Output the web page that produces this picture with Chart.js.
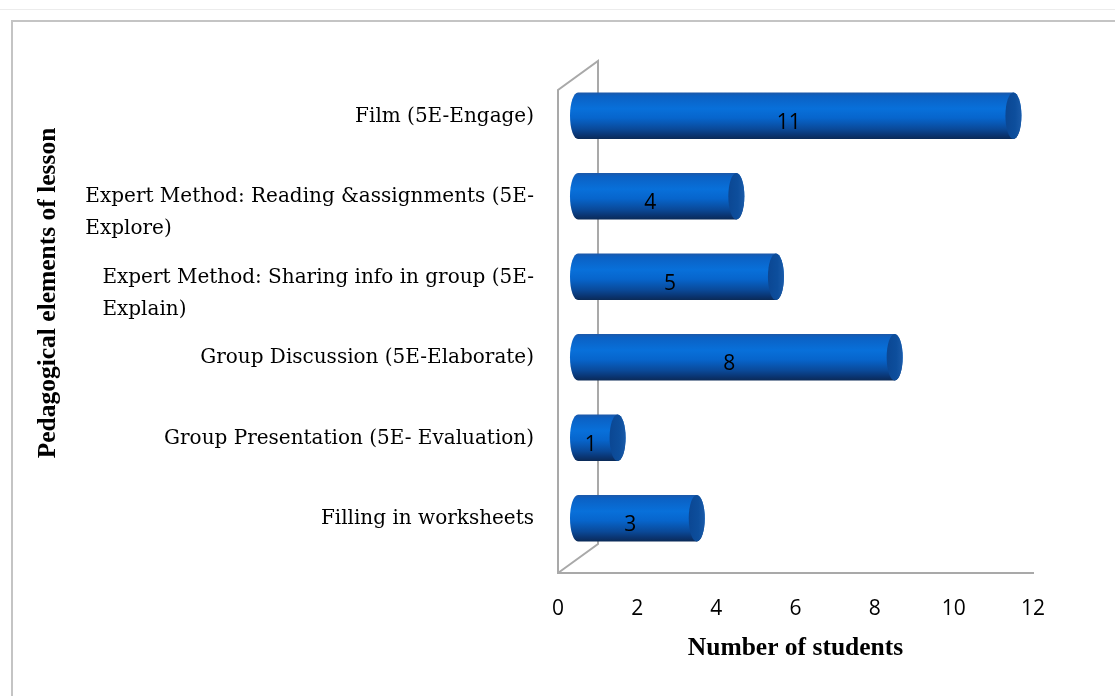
<!DOCTYPE html>
<html>
<head>
<meta charset="utf-8">
<script src="https://cdn.jsdelivr.net/npm/chart.js@4/dist/chart.umd.min.js"></script>
<style>
  body { margin: 0; background: #fff; overflow: hidden; }
  #topline { position: absolute; left: 0; top: 9px; width: 1115px; height: 1px; background: #ececec; }
  #frame { position: absolute; left: 11px; top: 20px; width: 1200px; height: 800px;
           border-left: 2px solid #c4c4c4; border-top: 2px solid #c4c4c4; }
  #chart { position: absolute; left: 0; top: 0; }
</style>
</head>
<body>
<div id="topline"></div>
<div id="frame"></div>
<canvas id="chart" width="1115" height="696"></canvas>
<script>
// categories top to bottom, as shown on the y axis
const categories = [
    ['Film (5E-Engage)'],
    ['Expert Method: Reading &assignments (5E-', 'Explore)'],
    ['Expert Method: Sharing info in group (5E-', 'Explain)'],
    ['Group Discussion (5E-Elaborate)'],
    ['Group Presentation (5E- Evaluation)'],
    ['Filling in worksheets']
];
const students = [11, 4, 5, 8, 1, 3];
const xTicks = [0, 2, 4, 6, 8, 10, 12];

const depthX = 40;   // 3d depth of the plot box
const depthY = -29;

const labelFont = '20px "DejaVu Serif"';
const numFont = '21px "Open Sans"';
const titleFont = 'bold 25.5px "Liberation Serif"';

// draws the 3d walls, cylinders, value labels and category labels
const cylinderPlugin = {
    id: 'cylinders',
    beforeDatasetsDraw(chart) {
        const ctx = chart.ctx;
        const a = chart.chartArea;
        ctx.save();
        ctx.strokeStyle = '#a9a9a9';
        ctx.lineWidth = 2;
        ctx.beginPath();
        ctx.moveTo(a.left, a.bottom);
        ctx.lineTo(a.left, a.top);
        ctx.lineTo(a.left + depthX, a.top + depthY);
        ctx.lineTo(a.left + depthX, a.bottom + depthY);
        ctx.lineTo(a.left, a.bottom);
        ctx.stroke();
        ctx.restore();
    },
    afterDatasetsDraw(chart) {
        const ctx = chart.ctx;
        const meta = chart.getDatasetMeta(0);
        const yScale = chart.scales.y;
        ctx.save();
        meta.data.forEach((bar, i) => {
            const x0 = bar.base + depthX / 2;
            const x1 = bar.x + depthX / 2;
            const cy = bar.y + depthY / 2;
            const ry = bar.height / 2;
            const rx = 8;
            const top = cy - ry, bottom = cy + ry;

            const grad = ctx.createLinearGradient(0, top, 0, bottom);
            grad.addColorStop(0, '#1d58a8');
            grad.addColorStop(0.08, '#0b61c4');
            grad.addColorStop(0.35, '#0870da');
            grad.addColorStop(0.55, '#0765cc');
            grad.addColorStop(0.78, '#0a4a9a');
            grad.addColorStop(0.92, '#0a3470');
            grad.addColorStop(1, '#0b2a56');
            ctx.fillStyle = grad;
            ctx.beginPath();
            ctx.moveTo(x0, top);
            ctx.lineTo(x1, top);
            ctx.ellipse(x1, cy, rx, ry, 0, -Math.PI / 2, Math.PI / 2);
            ctx.lineTo(x0, bottom);
            ctx.ellipse(x0, cy, rx, ry, 0, Math.PI / 2, Math.PI * 1.5);
            ctx.closePath();
            ctx.fill();

            // end cap
            const capGrad = ctx.createLinearGradient(x1 - rx, 0, x1 + rx, 0);
            capGrad.addColorStop(0, '#0b4793');
            capGrad.addColorStop(0.6, '#0d4e9c');
            capGrad.addColorStop(1, '#1a5aa8');
            ctx.fillStyle = capGrad;
            ctx.beginPath();
            ctx.ellipse(x1, cy, rx, ry, 0, 0, Math.PI * 2);
            ctx.fill();

            // value label
            ctx.fillStyle = '#000';
            ctx.font = numFont;
            ctx.textAlign = 'center';
            ctx.textBaseline = 'middle';
            ctx.fillText(String(students[i]), (x0 + x1) / 2 - 7, cy + 7);
        });

        // category labels: block right-aligned, lines left-aligned
        ctx.font = labelFont;
        ctx.fillStyle = '#000';
        ctx.textAlign = 'left';
        ctx.textBaseline = 'middle';
        categories.forEach((lines, i) => {
            const y = yScale.getPixelForTick(i) + depthY / 2 + 1;
            const w = Math.max(...lines.map(l => ctx.measureText(l).width));
            const x = yScale.right - 24 - w;
            lines.forEach((l, j) => ctx.fillText(l, x, y + j * 32));
        });

        // y axis title
        ctx.font = titleFont;
        ctx.textAlign = 'center';
        ctx.translate(48, 293);
        ctx.rotate(-Math.PI / 2);
        ctx.fillText('Pedagogical elements of lesson', 0, 0);
        ctx.restore();
    }
};

const ctx = document.getElementById('chart').getContext('2d');
const chart = new Chart(ctx, {
    type: 'bar',
    data: {
        labels: categories,
        datasets: [{
            data: students,
            backgroundColor: 'rgba(0,0,0,0)',
            borderWidth: 0,
            barPercentage: 0.58,
            categoryPercentage: 1
        }]
    },
    options: {
        indexAxis: 'y',
        responsive: false,
        animation: false,
        layout: { padding: { top: 90, right: 82, left: 0, bottom: 0 } },
        plugins: { legend: { display: false }, tooltip: { enabled: false } },
        scales: {
            x: {
                min: 0,
                max: 12,
                afterBuildTicks: s => { s.ticks = xTicks.map(v => ({ value: v })); },
                afterFit: s => { s.height = 123; },
                grid: { display: false, drawTicks: false },
                border: { display: true, color: '#a9a9a9', width: 2 },
                ticks: { padding: 23, color: '#000', font: { family: 'Open Sans', size: 21 } },
                title: {
                    display: true,
                    text: 'Number of students',
                    color: '#000',
                    font: { family: 'Liberation Serif', size: 25.5, weight: 'bold' },
                    padding: { top: 0, bottom: 32 }
                }
            },
            y: {
                afterFit: s => { s.width = 558; },
                grid: { display: false, drawTicks: false },
                border: { display: false },
                ticks: { display: false }
            }
        }
    },
    plugins: [cylinderPlugin]
});
</script>
</body>
</html>
